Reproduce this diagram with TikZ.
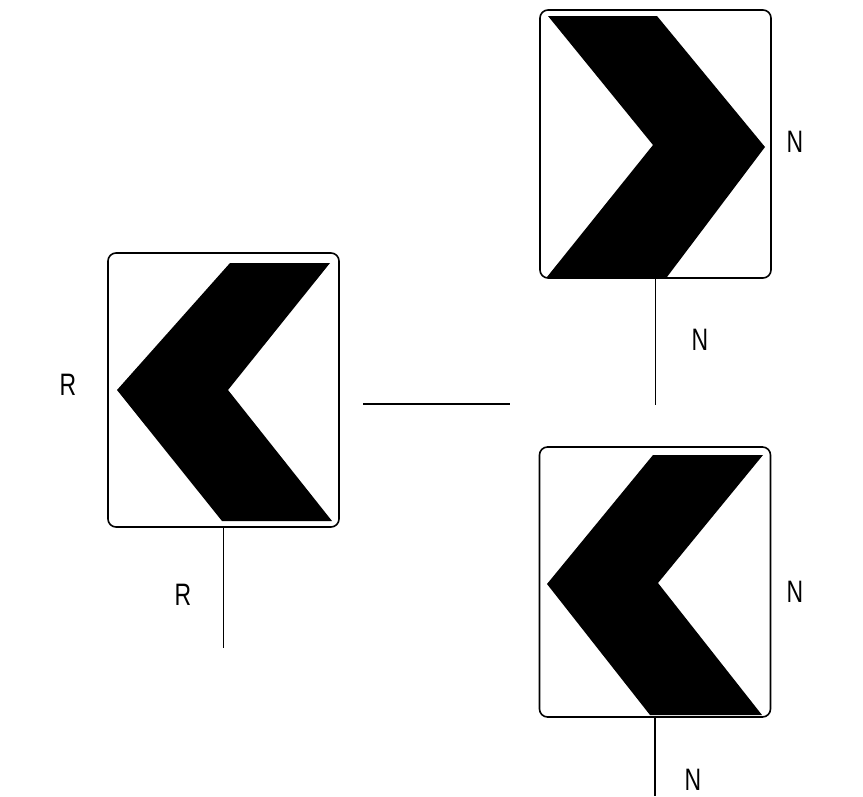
\documentclass[tikz,border=0pt]{standalone}
\usepackage{fontspec}
\setmainfont{Liberation Sans}
\usepackage{tikz}
\usetikzlibrary{calc}

\begin{document}
\begin{tikzpicture}[x=1pt,y=-1pt,inner sep=0pt,outer sep=0pt,line width=1.5pt,
    every node/.style={font=\fontsize{31}{31}\selectfont},
    signbox/.style={draw,rounded corners=8pt,line width=1.6pt,minimum width=231pt},
    lbl/.style={xscale=0.74}]
    % page frame
    \useasboundingbox (0,0) rectangle (863,796);

    % the three signs
    \node[signbox,minimum height=274pt] (sign_left) at (223.5,390) {};
    \node[signbox,minimum height=268pt] (sign_top) at (655.5,144) {};
    \node[signbox,minimum height=270pt] (sign_bot) at (655,582) {};

    % chevrons
    \fill (230,263) -- (330,263) -- (228,390) -- (332,521) -- (222,521) -- (117,390) -- cycle;
    \fill (548,16) -- (657,16) -- (765,147) -- (667,277) -- (547,277) -- (653,145) -- cycle;
    \fill (653,455) -- (763,455) -- (658,583) -- (762,715) -- (650,715) -- (547,584) -- cycle;

    % free ends of the posts
    \coordinate (post_left) at (223.5,648);
    \coordinate (post_top) at (655.5,405);
    \coordinate (post_bot) at (655,796);
    \coordinate (link_a) at (363,404);
    \coordinate (link_b) at (510,404);

    \draw (sign_left.south) -- (post_left);
    \draw (sign_top.south) -- (post_top);
    \draw (sign_bot.south) -- (post_bot);
    \draw (link_a) -- (link_b);

    % labels
    \node[lbl] (r_side) at (68,385) {R};
    \node[lbl] (r_post) at (183,595) {R};
    \node[lbl] (n_top_side) at (795,142) {N};
    \node[lbl] (n_top_post) at (700,340) {N};
    \node[lbl] (n_bot_side) at (795,592) {N};
    \node[lbl] (n_bot_post) at (693,780) {N};

\end{tikzpicture}
\end{document}
